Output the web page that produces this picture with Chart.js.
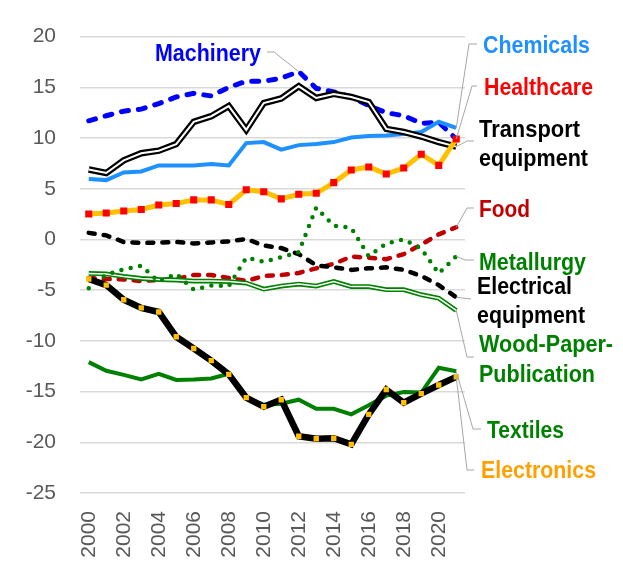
<!DOCTYPE html>
<html>
<head>
<meta charset="utf-8">
<script src="https://cdn.jsdelivr.net/npm/chart.js@4.4.0/dist/chart.umd.min.js"></script>
<style>
  html, body { margin: 0; padding: 0; background: #fff; }
  #wrap { width: 623px; height: 563px; position: relative; }
</style>
</head>
<body>
<div id="wrap"><canvas id="sectorChart"></canvas></div>
<script>
// Categories and series
const years = ['2000', '2001', '2002', '2003', '2004', '2005', '2006', '2007', '2008', '2009', '2010',
    '2011', '2012', '2013', '2014', '2015', '2016', '2017', '2018', '2019', '2020', '2021'];

const machinery = [11.7, 12.2, 12.65, 12.85, 13.4, 14.05, 14.4, 14.15, 15.0, 15.6, 15.6,
    15.9, 16.55, 14.9, 14.55, 14.05, 13.2, 12.5, 12.2, 11.45, 11.55, 9.9];
const chemicals = [5.95, 5.85, 6.6, 6.7, 7.3, 7.3, 7.3, 7.45, 7.3, 9.5, 9.6,
    8.85, 9.3, 9.4, 9.6, 10.05, 10.2, 10.25, 10.4, 10.6, 11.6, 11.0];
const healthcare = [2.5, 2.6, 2.8, 2.95, 3.4, 3.55, 3.9, 3.9, 3.45, 4.9, 4.7,
    4.0, 4.45, 4.55, 5.6, 6.85, 7.15, 6.45, 7.05, 8.4, 7.3, 9.9];
const transport = [6.9, 6.55, 7.8, 8.5, 8.75, 9.4, 11.6, 12.15, 13.15, 10.8, 13.45,
    13.9, 15.1, 13.95, 14.35, 14.05, 13.55, 10.9, 10.6, 10.15, 9.6, 9.15];
const food = [-3.8, -3.9, -3.95, -4.1, -4.0, -3.9, -3.5, -3.5, -3.8, -4.1, -3.6,
    -3.5, -3.3, -2.85, -2.4, -1.7, -1.8, -1.95, -1.45, -0.5, 0.5, 1.2];
const metallurgy = [-4.8, -3.45, -2.95, -2.6, -4.15, -3.4, -4.95, -4.55, -4.6, -1.8, -2.2,
    -1.75, -1.25, 3.15, 1.35, 1.15, -1.65, -0.4, 0.0, -0.9, -3.35, -1.65];
const electrical = [0.65, 0.4, -0.25, -0.35, -0.3, -0.25, -0.4, -0.3, -0.2, 0.05, -0.6,
    -0.85, -1.45, -2.55, -2.75, -3.0, -2.85, -2.75, -3.0, -3.6, -4.5, -5.7];
const woodPaper = [-3.35, -3.4, -3.65, -3.85, -3.95, -4.0, -4.1, -4.1, -4.15, -4.3, -4.9,
    -4.6, -4.4, -4.6, -4.15, -4.65, -4.65, -4.95, -4.95, -5.45, -5.8, -7.0];
const textiles = [-12.1, -12.95, -13.35, -13.8, -13.25, -13.85, -13.8, -13.7, -13.25, -15.55, -16.3,
    -16.2, -15.8, -16.7, -16.7, -17.25, -16.35, -15.4, -15.05, -15.1, -12.65, -13.0];
const electronics = [-3.9, -4.5, -5.95, -6.75, -7.15, -9.6, -10.75, -11.95, -13.3, -15.6, -16.5,
    -15.8, -19.4, -19.65, -19.6, -20.2, -17.25, -14.8, -16.1, -15.2, -14.35, -13.55];

const TICK_FONT = '"Liberation Sans", Arial, sans-serif';

function line(label, data, color, width, extra) {
    return Object.assign({
        label: label,
        data: data,
        borderColor: color,
        backgroundColor: color,
        borderWidth: width,
        pointRadius: 0,
        tension: 0,
        fill: false
    }, extra || {});
}

// first dataset ends up on top
const datasets = [
    line('Healthcare', healthcare, '#FFC000', 5, {
        pointRadius: 5, pointStyle: 'rect', pointBackgroundColor: '#FF0000', pointBorderWidth: 0
    }),
    line('Electronics', electronics, '#000000', 6.5, {
        pointRadius: 3.8, pointStyle: 'rect', pointBackgroundColor: '#FFC000', pointBorderWidth: 0
    }),
    line('Transport inner', transport, '#FFFFFF', 2),
    line('Transport equipment', transport, '#000000', 6.5),
    line('Chemicals', chemicals, '#1E90FF', 4),
    line('Machinery', machinery, '#0000FF', 5, { borderDash: [7, 10], borderCapStyle: 'round' }),
    line('Metallurgy', metallurgy, '#008000', 4.5, { borderDash: [0, 9.5], borderCapStyle: 'round' }),
    line('Wood inner', woodPaper, '#FFFFFF', 1.5),
    line('Wood-Paper-Publication', woodPaper, '#008000', 4.8),
    line('Electrical equipment', electrical, '#000000', 4.5, { borderDash: [6, 9], borderCapStyle: 'round' }),
    line('Food', food, '#C00000', 4.5, { borderDash: [6, 9], borderCapStyle: 'round' }),
    line('Textiles', textiles, '#008000', 4)
];

// labels at the right with grey leader lines to the series end
const seriesLabels = [
    { text: ['Machinery'], color: '#0000FF', x: 155, base: [61], w: [106], data: machinery, at: 12, path: [[267, 52], [274, 52]] },
    { text: ['Chemicals'], color: '#1E90FF', x: 483, base: [53], w: [107], data: chemicals, at: 21, path: [[477, 44], [469, 44]] },
    { text: ['Healthcare'], color: '#FF0000', x: 484, base: [95], w: [109], data: healthcare, at: 21, path: [[477, 86], [472, 86]] },
    { text: ['Transport', 'equipment'], color: '#000000', x: 479, base: [137, 166], w: [101, 109], data: transport, at: 21, path: [[474, 141], [467, 141]] },
    { text: ['Food'], color: '#C00000', x: 479, base: [217], w: [51], data: food, at: 21, path: [[474, 208], [467, 208]] },
    { text: ['Metallurgy'], color: '#008000', x: 479, base: [270], w: [107], data: metallurgy, at: 21, path: [[474, 260], [465, 260]] },
    { text: ['Electrical', 'equipment'], color: '#000000', x: 477, base: [294, 323], w: [95, 108], data: electrical, at: 21, path: [[471, 299]] },
    { text: ['Wood-Paper-', 'Publication'], color: '#008000', x: 479, base: [352, 382], w: [134, 116], data: woodPaper, at: 21, path: [[474, 357], [467, 357]] },
    { text: ['Textiles'], color: '#008000', x: 487, base: [438], w: [77], data: textiles, at: 21, path: [[481, 429], [473, 429]] },
    { text: ['Electronics'], color: '#FFA000', x: 481, base: [478], w: [115], data: electronics, at: 21, path: [[474, 470], [467, 470]] }
];

const labelPlugin = {
    id: 'labelPlugin',
    afterDatasetsDraw(chart) {
        const ctx = chart.ctx;
        const xs = chart.scales.x;
        const ys = chart.scales.y;
        ctx.save();
        seriesLabels.forEach(l => {
            // leader line
            ctx.strokeStyle = '#A6A6A6';
            ctx.lineWidth = 1;
            ctx.beginPath();
            ctx.moveTo(l.path[0][0], l.path[0][1]);
            for (let i = 1; i < l.path.length; i++) ctx.lineTo(l.path[i][0], l.path[i][1]);
            ctx.lineTo(xs.getPixelForValue(l.at), ys.getPixelForValue(l.data[l.at]));
            ctx.stroke();

            // text
            ctx.fillStyle = l.color;
            ctx.font = 'bold 24px "Liberation Sans", Arial, sans-serif';
            ctx.textAlign = 'left';
            ctx.textBaseline = 'alphabetic';
            l.text.forEach((t, i) => ctx.fillText(t, l.x, l.base[i], l.w[i]));
        });
        ctx.restore();
    }
};

new Chart(document.getElementById('sectorChart'), {
    type: 'line',
    data: { labels: years, datasets: datasets },
    options: {
        responsive: true,
        maintainAspectRatio: false,
        animation: false,
        layout: { padding: { left: 0, top: 34, right: 158, bottom: 0 } },
        plugins: {
            legend: { display: false },
            tooltip: { enabled: false }
        },
        scales: {
            x: {
                type: 'category',
                offset: true,
                grid: { display: false, drawTicks: false },
                border: { display: false },
                ticks: {
                    autoSkip: false,
                    minRotation: 90,
                    maxRotation: 90,
                    padding: 18,
                    color: '#595959',
                    font: { family: TICK_FONT, size: 21 },
                    callback: function (val, i) {
                        return i % 2 === 0 ? years[i] : '';
                    }
                },
                afterFit: s => { s.height = 70; }
            },
            y: {
                min: -25,
                max: 20,
                grid: { color: '#D9D9D9', lineWidth: 1.5, drawTicks: false },
                border: { display: false },
                ticks: {
                    stepSize: 5,
                    padding: 24,
                    color: '#595959',
                    font: { family: TICK_FONT, size: 21 }
                },
                afterFit: s => { s.width = 80; }
            }
        }
    },
    plugins: [labelPlugin]
});
</script>
</body>
</html>
